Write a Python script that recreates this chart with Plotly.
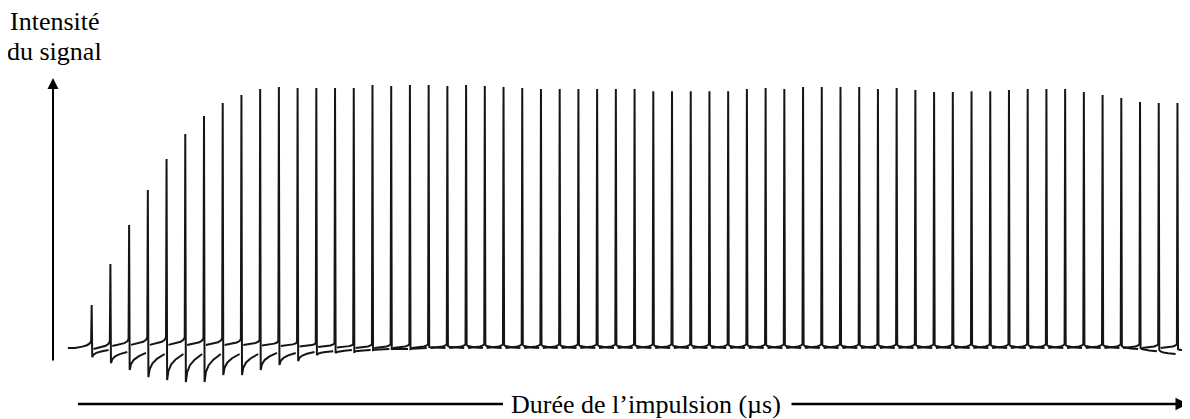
import plotly.graph_objects as go

# ---------- data (intensity in relative units, plateau ~ 100)
pulse = list(range(1, 60))

peak = [16.5, 32.3, 47.3, 60.8, 72.7, 82.3, 89.2, 94.2, 97.3, 99.6,
        100.4, 100.0, 100.0, 100.0, 100.0, 101.2, 100.8, 101.2, 101.2, 100.8,
        101.2, 100.8, 100.4, 100.0, 99.6, 99.6, 99.6, 99.6, 99.6, 99.6,
        98.8, 98.8, 98.8, 98.8, 98.8, 99.6, 100.0, 99.6, 100.4, 100.4,
        100.4, 100.4, 99.6, 100.0, 99.2, 98.5, 98.5, 98.8, 98.8, 99.2,
        99.6, 99.6, 99.6, 98.5, 97.3, 96.2, 94.6, 94.2, 94.2]

# level of the trace just before / just after each line (dispersive part)
pre_level = [2.7, 2.7, 3.5, 4.2, 4.2, 4.2, 3.8, 3.8, 3.5, 3.1,
             2.7, 2.3, 1.9, 1.9, 1.5] + [1.5] * 44
post_level = [-3.5, -5.8, -8.5, -11.2, -12.3, -13.1, -13.1, -10.4, -10.4, -8.5,
              -6.5, -5.0, -2.7, -1.9, -1.5, -0.8, -0.4, -0.4, 0.4, 0.8] + [1.2] * 35 + \
             [0.8, 0.0, -0.8, -0.4]
# level the tails settle to between two lines
pre_tail = [0, -0.4, 0.8, 1.2, 1.2, 1.2, 1.2, 1.2, 1.2, 1.2,
            1.0, 0.8, 0.6, 0.4, 0.2] + [0] * 44
post_tail = [-0.8, -1.5, -1.9, -2.3, -2.3, -2.3, -2.3, -2.3, -2.3, -1.9,
             -1.9, -1.5, -1.2, -0.8, -0.8, -0.4, -0.4] + [0] * 38 + \
            [-0.4, -1.2, -2.3, -1.2]

# ---------- geometry (page body has an 8px margin, so the figure is shrunk by it)
OFF = 8
W, H = 1190 - OFF, 419 - OFF
x_range = [-3.47, 59.67]
y_range = [-27.3, 130.77]
x_start = -0.27

# line profile template (offsets from the line centre, fraction of the way to the line)
pre_off = [-0.9, -0.5, -0.25, -0.1, -0.03]
pre_frac = [0, 0.2, 0.4, 0.65, 1]
post_off = [0.03, 0.1, 0.25, 0.5, 0.9]
post_frac = [1, 0.65, 0.4, 0.2, 0]

xs, ys = [x_start], [0]
for i, c in enumerate(pulse):
    if i > 0:
        xs.append(None)
        ys.append(None)
    for o, f in zip(pre_off, pre_frac):
        xs.append(c + o)
        ys.append(pre_tail[i] + (pre_level[i] - pre_tail[i]) * f)
    xs.append(c)
    ys.append(peak[i])
    for o, f in zip(post_off, post_frac):
        xs.append(c + o)
        ys.append(post_tail[i] + (post_level[i] - post_tail[i]) * f)
xs.append(x_range[1])
ys.append(post_tail[-1])

fig = go.Figure()
fig.add_trace(go.Scatter(
    x=xs, y=ys, mode="lines",
    line=dict(color="#151515", width=2),
    hoverinfo="skip"
))

fig.update_xaxes(visible=False, range=x_range)
fig.update_yaxes(visible=False, range=y_range)


def px(x):
    return (x - OFF) / W


def py(y):
    return 1 - (y - OFF) / H


serif = "Liberation Serif"
label_font = dict(family=serif, size=26, color="black")

# y label
fig.add_annotation(x=px(55), y=py(22), xref="paper", yref="paper",
                   xanchor="center", yanchor="middle",
                   text="Intensité", showarrow=False, font=label_font)
fig.add_annotation(x=px(54), y=py(52), xref="paper", yref="paper",
                   xanchor="center", yanchor="middle",
                   text="du signal", showarrow=False, font=label_font)

# vertical arrow (tail offset in pixels)
fig.add_annotation(x=px(53), y=py(78), ax=0, ay=362 - 78,
                   xref="paper", yref="paper",
                   text="", showarrow=True, arrowhead=2, arrowsize=1.1,
                   arrowwidth=2, arrowcolor="black")

# horizontal arrow with label in the middle
fig.add_shape(type="line", xref="paper", yref="paper",
              x0=px(78), x1=px(503), y0=py(404), y1=py(404),
              line=dict(color="black", width=2.5))
fig.add_annotation(x=px(1188), y=py(404), ax=790 - 1188, ay=0,
                   xref="paper", yref="paper",
                   text="", showarrow=True, arrowhead=2, arrowsize=1,
                   arrowwidth=2.5, arrowcolor="black")
fig.add_annotation(x=px(646), y=py(404), xref="paper", yref="paper",
                   xanchor="center", yanchor="middle",
                   text="Durée de l’impulsion (µs)", showarrow=False,
                   font=label_font)

fig.update_layout(
    width=W, height=H,
    margin=dict(l=0, r=0, t=0, b=0),
    plot_bgcolor="white", paper_bgcolor="white",
    showlegend=False,
)

fig.write_html("out.html")
